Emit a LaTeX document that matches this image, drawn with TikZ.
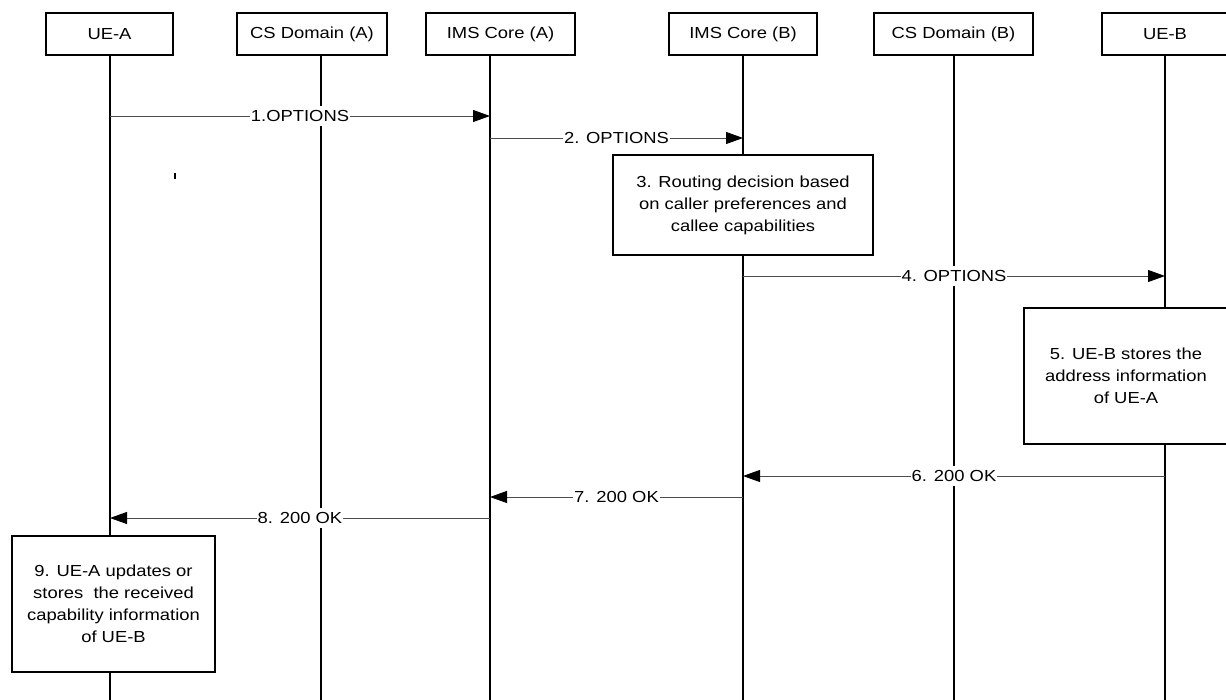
\documentclass[tikz,border=0pt]{standalone}
\usepackage{fontspec}
\setmainfont{Liberation Sans}[FakeStretch=1.15]
\usetikzlibrary{arrows.meta}

\begin{document}
\begin{tikzpicture}[x=1pt,y=-1pt,>={Triangle[length=17pt,width=12pt,color=black]},
                    font=\fontsize{16}{22}\selectfont,line width=1.4pt]
  \tikzstyle{entity}=[draw,minimum height=42pt,inner sep=0pt]
  \tikzstyle{action}=[draw,fill=white,align=center,inner sep=0pt]
  \tikzstyle{msg}=[->,draw=black!70,line width=0.9pt]
  \tikzstyle{lbl}=[fill=white,text=black,inner xsep=1pt,inner ysep=4pt]

  \useasboundingbox (0,0) rectangle (1226,700);

  \node[entity,minimum width=127pt] (ueA)  at (109.5,34) {UE-A};
  \node[entity,minimum width=150pt] (csA)  at (312,34)   {CS Domain (A)};
  \node[entity,minimum width=149pt] (imsA) at (500.5,34) {IMS Core (A)};
  \node[entity,minimum width=148pt] (imsB) at (743,34)   {IMS Core (B)};
  \node[entity,minimum width=159pt] (csB)  at (953.5,34) {CS Domain (B)};
  \node[entity,minimum width=126pt] (ueB)  at (1165,34)  {UE-B};

  % lifelines
  \coordinate (ueAl)  at (110,55);
  \coordinate (csAl)  at (321,55);
  \coordinate (imsAl) at (490,55);
  \coordinate (imsBl) at (743,55);
  \coordinate (csBl)  at (954,55);
  \coordinate (ueBl)  at (1165,55);
  \coordinate (bot)   at (0,700);
  \foreach \l in {ueAl,csAl,imsAl,imsBl,csBl,ueBl}
    \draw (\l) -- (\l |- bot);

  \draw[line width=1.5pt] (175,173) -- (175,179);

  \node[action,minimum width=260pt,minimum height=100pt] (route)  at (743,205)
    {3. Routing decision based\\on caller preferences and\\callee capabilities};
  \node[action,minimum width=204pt,minimum height=136pt] (storeB) at (1126,376)
    {5. UE-B stores the\\address information\\of UE-A};
  \node[action,minimum width=203pt,minimum height=136pt] (storeA) at (113.5,604)
    {9. UE-A updates or\\stores\ \ the received\\capability information\\of UE-B};

  % message rows
  \coordinate (r1) at (0,116);
  \coordinate (r2) at (0,138);
  \coordinate (r4) at (0,276);
  \coordinate (r6) at (0,476);
  \coordinate (r7) at (0,497);
  \coordinate (r8) at (0,518);

  \path (ueAl |- r1)  edge [msg] node[lbl] {1.OPTIONS}  (imsAl |- r1)
        (imsAl |- r2) edge [msg] node[lbl] {2. OPTIONS} (imsBl |- r2)
        (imsBl |- r4) edge [msg] node[lbl] {4. OPTIONS} (ueBl |- r4)
        (ueBl |- r6)  edge [msg] node[lbl] {6. 200 OK}  (imsBl |- r6)
        (imsBl |- r7) edge [msg] node[lbl] {7. 200 OK}  (imsAl |- r7)
        (imsAl |- r8) edge [msg] node[lbl] {8. 200 OK}  (ueAl |- r8);
        %(ueAl |- r8) edge [loop below] node {} (ueAl |- r8)
\end{tikzpicture}
\end{document}
